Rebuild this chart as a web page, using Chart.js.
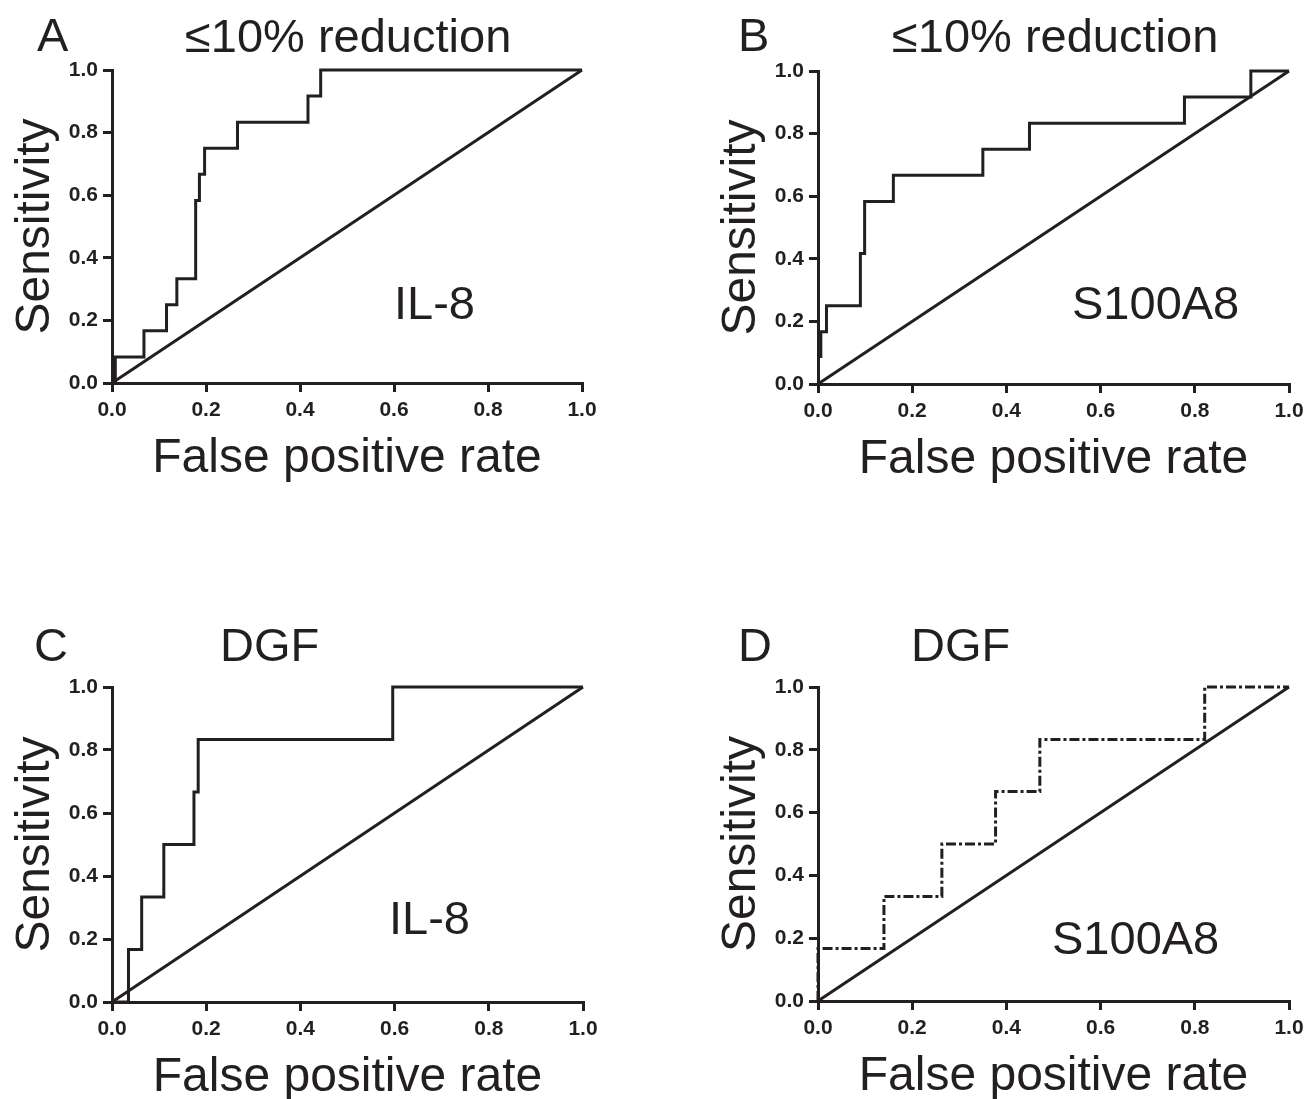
<!DOCTYPE html>
<html>
<head>
<meta charset="utf-8">
<script src="https://cdn.jsdelivr.net/npm/chart.js@4.4.1/dist/chart.umd.min.js"></script>
<style>
  html, body { margin: 0; padding: 0; background: #fff; overflow: hidden; }
  body { width: 1311px; height: 1099px; position: relative; font-family: "Liberation Sans", Arial, sans-serif; color: #231f20; }
  canvas { position: absolute; }
  .lbl { position: absolute; white-space: nowrap; line-height: 1; font-size: 47px; }
</style>
</head>
<body>
<canvas id="chartA" width="604" height="443" style="left:0px; top:50px;"></canvas>
<canvas id="chartB" width="605" height="443" style="left:706px; top:51px;"></canvas>
<canvas id="chartC" width="605" height="445" style="left:0px; top:667px;"></canvas>
<canvas id="chartD" width="605" height="444" style="left:706px; top:667px;"></canvas>

<!-- パネル見出し -->
<div class="lbl" style="left:37px; top:11px;">A</div>
<div class="lbl" style="left:185px; top:12px;">≤10% reduction</div>
<div class="lbl" style="left:738px; top:11px;">B</div>
<div class="lbl" style="left:892px; top:12px;">≤10% reduction</div>
<div class="lbl" style="left:34px; top:621px;">C</div>
<div class="lbl" style="left:220px; top:621px;">DGF</div>
<div class="lbl" style="left:738px; top:621px;">D</div>
<div class="lbl" style="left:911px; top:621px;">DGF</div>

<!-- グラフ内のマーカー名 -->
<div class="lbl" style="left:394px; top:279px;">IL-8</div>
<div class="lbl" style="left:1072px; top:279px;">S100A8</div>
<div class="lbl" style="left:389px; top:894px;">IL-8</div>
<div class="lbl" style="left:1052px; top:914px;">S100A8</div>

<script>
// ✅ ROC データ（階段の角: 横に進んでから縦に上がる）
const fprA  = [0, 0.007, 0.068, 0.116, 0.138, 0.178, 0.186, 0.197, 0.267, 0.417, 0.444, 1.0];
const sensA = [0, 0.083, 0.167, 0.25, 0.333, 0.583, 0.667, 0.75, 0.833, 0.917, 1.0, 1.0];

const fprB  = [0.006, 0.006, 0.018, 0.090, 0.099, 0.160, 0.350, 0.449, 0.778, 0.919, 1.0];
const sensB = [0.083, 0.167, 0.25, 0.417, 0.583, 0.667, 0.75, 0.833, 0.917, 1.0, 1.0];

const fprC  = [0, 0.035, 0.063, 0.110, 0.174, 0.183, 0.596, 1.0];
const sensC = [0, 0.167, 0.333, 0.5, 0.667, 0.833, 1.0, 1.0];

const fprD  = [0, 0, 0.140, 0.263, 0.377, 0.471, 0.821, 1.0];
const sensD = [0, 0.167, 0.333, 0.5, 0.667, 0.833, 1.0, 1.0];

// ✅ 対角線（参照線）
const diagX = [0, 1];
const diagY = [0, 1];

const ink = "#231f20";
const fontFamily = '"Liberation Sans", Arial, sans-serif';

// ✅ 階段状の点列を作る
function stepPoints(xs, ys) {
    const pts = [{ x: xs[0], y: ys[0] }];
    for (let i = 1; i < xs.length; i++) {
        pts.push({ x: xs[i], y: ys[i - 1] });
        pts.push({ x: xs[i], y: ys[i] });
    }
    return pts;
}

// ✅ ROC グラフ作成関数
function createRoc(canvasId, xs, ys, dash) {
    const canvas = document.getElementById(canvasId);
    const axisCommon = {
        type: "linear",
        min: 0,
        max: 1,
        grid: { drawOnChartArea: false, drawTicks: true, tickLength: 9, color: ink, lineWidth: 3 },
        border: { display: true, color: ink, width: 3 }
    };

    return new Chart(canvas, {
        type: "scatter",
        data: {
            datasets: [
                {
                    data: diagX.map((x, i) => ({ x: x, y: diagY[i] })),
                    showLine: true,
                    borderColor: ink,
                    borderWidth: 3,
                    pointRadius: 0,
                    clip: false
                },
                {
                    data: stepPoints(xs, ys),
                    showLine: true,
                    borderColor: ink,
                    borderWidth: 3,
                    borderDash: dash,
                    borderCapStyle: "butt",
                    borderJoinStyle: "miter",
                    pointRadius: 0,
                    clip: false
                }
            ]
        },
        options: {
            responsive: false,
            animation: false,
            layout: { padding: { top: 20, left: 0, right: 22, bottom: 5 } },
            plugins: { legend: { display: false }, tooltip: { enabled: false } },
            scales: {
                x: {
                    ...axisCommon,
                    afterFit: s => { s.height = 105; },
                    ticks: { stepSize: 0.2, callback: v => v.toFixed(1), maxRotation: 0, padding: 6,
                             color: ink, font: { family: fontFamily, size: 21, weight: "bold" } },
                    title: { display: true, text: "False positive rate", color: ink, padding: { top: 0, bottom: 0 },
                             font: { family: fontFamily, size: 48 } }
                },
                y: {
                    ...axisCommon,
                    afterFit: s => { s.width = 112; },
                    ticks: { stepSize: 0.2, callback: v => v.toFixed(1), padding: 5,
                             color: ink, font: { family: fontFamily, size: 21, weight: "bold" } },
                    title: { display: true, text: "Sensitivity", color: ink, padding: { top: 7, bottom: 0 },
                             font: { family: fontFamily, size: 48 } }
                }
            }
        }
    });
}

// ✅ 4 パネル描画
createRoc("chartA", fprA, sensA, []);
createRoc("chartB", fprB, sensB, []);
createRoc("chartC", fprC, sensC, []);
createRoc("chartD", fprD, sensD, [10, 3, 3, 3]);
</script>
</body>
</html>
